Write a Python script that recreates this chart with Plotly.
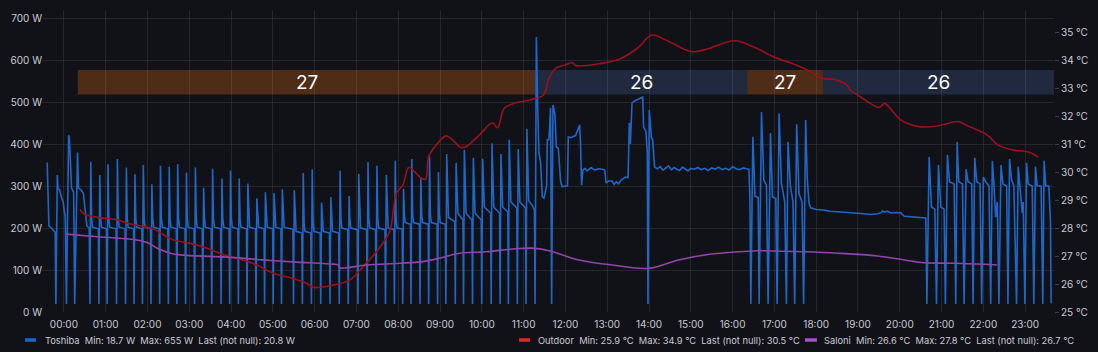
import pandas as pd
import plotly.graph_objects as go

DAY = pd.Timestamp("2023-07-15")

# ---- Toshiba power (W): (minutes from midnight, watts) ----
toshiba_start = [
    (-24, 356), (-23.3, 300), (-22.5, 245), (-21.5, 205), (-18, 200), (-15, 195), (-12.5, 190),
    (-11.5, 19), (-9.5, 326), (-8.5, 295), (-6, 290), (-3, 270), (-1, 262), (0.5, 240), (2, 225),
    (3.6, 19), (6.8, 421), (8.0, 410), (9.5, 340), (11, 295), (14, 285), (15.5, 19),
    (19.6, 380), (21, 295), (25, 290), (28, 282), (30, 250), (33, 205), (36.4, 200),
]
toshiba_night = [
    (37.4, 19), (38.6, 358), (39.8, 223), (41.1, 202), (49.5, 198),
    (50.3, 19), (51.5, 326), (52.7, 223), (54.0, 202), (61.3, 198),
    (62.1, 19), (63.3, 352), (64.5, 223), (65.8, 202), (74.8, 198),
    (75.6, 19), (76.8, 364), (78.0, 223), (79.3, 202), (87.7, 198),
    (88.5, 19), (89.7, 344), (90.9, 223), (92.2, 202), (100.0, 198),
    (100.8, 19), (102.0, 328), (103.2, 223), (104.5, 202), (112.0, 198),
    (112.8, 19), (114.0, 350), (115.2, 223), (116.5, 202), (124.3, 198),
    (125.1, 19), (126.3, 304), (127.5, 223), (128.8, 202), (136.7, 198),
    (137.5, 19), (138.7, 348), (139.9, 223), (141.2, 202), (149.2, 198),
    (150.0, 19), (151.2, 346), (152.4, 223), (153.7, 202), (161.4, 198),
    (162.2, 19), (163.4, 352), (164.6, 223), (165.9, 202), (173.9, 198),
    (174.7, 19), (175.9, 332), (177.1, 223), (178.4, 202), (186.8, 198),
    (187.6, 19), (188.8, 344), (190.0, 223), (191.3, 202), (198.6, 198),
    (199.4, 19), (200.6, 296), (201.8, 223), (203.1, 202), (211.5, 198),
    (212.3, 19), (213.5, 341), (214.7, 223), (216.0, 202), (224.9, 198),
    (225.7, 19), (226.9, 318), (228.1, 223), (229.4, 202), (237.2, 198),
    (238.0, 19), (239.2, 336), (240.4, 223), (241.7, 202), (249.7, 198),
    (250.5, 19), (251.7, 318), (252.9, 223), (254.2, 202), (262.1, 198),
    (262.9, 19), (264.1, 306), (265.3, 223), (266.6, 202), (275.0, 198),
    (275.8, 19), (277.0, 271), (278.2, 223), (279.5, 202), (287.3, 198),
    (288.1, 19), (289.3, 285), (290.5, 223), (291.8, 202), (299.7, 198),
    (300.5, 19), (301.7, 283), (302.9, 223), (304.2, 202), (311.6, 198),
    (312.4, 19), (313.6, 292), (314.8, 223), (316.1, 202), (328.8, 197),
    (329.6, 19), (330.8, 290), (332.0, 213), (333.3, 192), (341.6, 188),
    (342.4, 19), (343.6, 331), (344.8, 213), (346.1, 192), (354.5, 188),
    (355.3, 19), (356.5, 340), (357.7, 213), (359.0, 192), (367.9, 188),
    (368.7, 19), (369.9, 260), (371.1, 213), (372.4, 192), (381.2, 188),
    (382.0, 19), (383.2, 274), (384.4, 213), (385.7, 192), (394.5, 188),
    (395.3, 19), (396.5, 336), (397.7, 221), (399.0, 200), (407.4, 196),
    (408.2, 19), (409.4, 276), (410.6, 221), (411.9, 200), (421.3, 196),
    (422.1, 19), (423.3, 329), (424.5, 221), (425.8, 200), (434.6, 196),
    (435.4, 19), (436.6, 357), (437.8, 221), (439.1, 200), (447.4, 196),
    (448.2, 19), (449.4, 348), (450.6, 221), (451.9, 200), (460.9, 196),
    (461.7, 19), (462.9, 326), (464.1, 221), (465.4, 200), (473.7, 196),
    (474.5, 19), (475.7, 360), (476.9, 221), (478.2, 200), (485.6, 198),
    (486.4, 19), (487.6, 293), (488.8, 234), (490.1, 213), (497.5, 209),
    (498.3, 19), (499.5, 364), (500.7, 234), (502.0, 213), (510.4, 209),
    (511.2, 19), (512.4, 321), (513.6, 234), (514.9, 213), (522.9, 209),
    (523.7, 19), (524.9, 371), (526.1, 234), (527.4, 213), (535.7, 209),
    (536.5, 19), (537.7, 333), (538.9, 234), (540.2, 213), (547.6, 209),
    (548.4, 19), (549.6, 376), (550.8, 269), (552.1, 225), (561.1, 215),
    (561.9, 19), (563.1, 355), (564.3, 279), (565.6, 235), (572.9, 219),
    (573.7, 19), (574.9, 386), (576.1, 279), (577.4, 235), (585.8, 219),
    (586.6, 19), (587.8, 367), (589.0, 279), (590.3, 235), (599.1, 219),
    (599.9, 19), (601.1, 365), (602.3, 295), (603.6, 250), (612.6, 235),
    (613.4, 19), (614.6, 402), (615.8, 295), (617.1, 250), (625.4, 235),
    (626.2, 19), (627.4, 376), (628.6, 295), (629.9, 250), (637.3, 238),
    (638.1, 19), (639.3, 410), (640.5, 308), (641.8, 262), (650.2, 248),
    (651.0, 19), (652.2, 388), (653.4, 308), (654.7, 262), (662.7, 248),
    (663.5, 19), (664.7, 436), (665.9, 330), (667.2, 265), (672.0, 255), (675.5, 243),
]
toshiba_midday = [
    (676.4, 19), (678.3, 655), (680.7, 450), (682, 380), (684.4, 355), (686.8, 274), (689.2, 271),
    (691.6, 290), (693, 300), (694, 410), (696.3, 410), (698.7, 486), (700.2, 19), (702.1, 493),
    (705, 470), (706.9, 393), (709.8, 390), (713.1, 310), (715.5, 298), (720.3, 300), (723, 300),
    (724.1, 417), (727.4, 415), (734.6, 420), (738.4, 440), (740.3, 445), (741.7, 400), (743.2, 302),
    (745.1, 338), (748, 342), (751, 336), (753.6, 340), (757, 344), (762, 338), (767, 341),
    (772.7, 340), (776.5, 338), (778.4, 307), (782, 312), (787, 312), (790, 304), (793, 310),
    (796.5, 305), (800, 314), (804, 318), (806, 321), (809.9, 320), (811.8, 450), (813.2, 400),
    (815.6, 498), (820, 503), (825.1, 507), (830.9, 512), (832.3, 440), (835.6, 430), (837.5, 380),
    (838.5, 19), (840.4, 481), (843.3, 417), (845.2, 410), (848, 345), (852, 341), (856, 346),
    (860, 338), (864, 343), (868, 348), (872, 339), (876, 344), (880, 340), (884, 337), (888, 345),
    (892, 341), (896, 336), (900, 342), (905, 340), (910, 344), (915, 339), (920, 342), (925, 337),
    (930, 343), (935, 340), (940, 345), (945, 339), (950, 342), (955, 338), (960, 346), (965, 341),
    (970, 339), (975, 343), (980, 341), (983.4, 340), (984.8, 274), (986.2, 19),
]
toshiba_evening = [
    (989.1, 417), (990.3, 330), (992, 276), (996.7, 272), (998.1, 19),
    (1001.5, 476), (1004.8, 314), (1008.6, 302), (1011, 19),
    (1014.4, 426), (1017.2, 274), (1022, 270), (1023.9, 19),
    (1026.7, 473), (1030.1, 307), (1034.8, 262), (1037.2, 19),
    (1039.6, 405), (1042.9, 300), (1046.7, 262), (1049.1, 19),
    (1052, 447), (1055.3, 282), (1059.6, 262), (1062, 19),
    (1064.9, 457), (1067.3, 314), (1069.7, 259), (1072, 248),
    (1080, 244), (1090, 243), (1100, 240), (1111, 238), (1125, 237), (1140, 235), (1158.8, 232),
    (1168, 234), (1173, 236), (1175.4, 241), (1177.8, 238), (1182, 240), (1187.3, 236), (1195, 237),
    (1201.6, 236), (1206.4, 228), (1212, 227), (1220.7, 226), (1230, 225), (1237.4, 224), (1238.9, 19),
]
toshiba_night2 = [
    (1242.2, 369), (1245.5, 250), (1250.3, 245), (1252.7, 19),
    (1255.5, 350), (1258.9, 250), (1263.6, 245), (1265.5, 19),
    (1268.4, 374), (1271.3, 310), (1278, 305), (1280.4, 19),
    (1282.3, 405), (1284.7, 310), (1289.9, 305), (1292.3, 19),
    (1295.2, 340), (1298.1, 310), (1303.3, 305), (1305.2, 19),
    (1307.6, 367), (1310.5, 310), (1315.2, 305), (1317.6, 19),
    (1320, 321), (1323.3, 310), (1328.1, 300), (1330.5, 19),
    (1332.9, 360), (1335.3, 300), (1337.6, 226), (1340, 262), (1342.4, 19),
    (1345.3, 350), (1348.1, 305), (1353.4, 300), (1355.3, 19),
    (1357.6, 364), (1360.5, 314), (1363.8, 300), (1367.6, 19),
    (1370, 346), (1372.4, 305), (1375.8, 236), (1377.2, 262), (1379.6, 19),
    (1382, 355), (1384.4, 305), (1390.1, 300), (1392.5, 19),
    (1394.8, 346), (1397.2, 300), (1402.9, 300), (1405.3, 19),
    (1407.2, 360), (1409.6, 300), (1413.9, 300), (1416.3, 219), (1417.3, 20.8),
]

# ---- Outdoor temperature (°C) ----
outdoor = [
    (22.9, 28.67), (29.0, 28.50), (48.2, 28.38), (76.8, 28.29), (95.8, 28.14), (114.8, 28.05),
    (129.1, 27.96), (143.4, 27.75), (157.7, 27.57), (181.6, 27.45), (205.5, 27.28), (229.2, 27.04),
    (248.4, 26.92), (277.0, 26.68), (300.7, 26.38), (329.3, 26.20), (348.5, 26.03), (357.9, 25.88),
    (386.5, 25.96), (410.4, 26.14), (429.4, 26.62), (448.6, 27.15), (467.6, 27.87), (477.2, 29.24),
    (486.6, 29.54), (495.2, 30.17), (503.4, 30.01), (512.9, 29.78), (519.1, 29.74), (523.8, 30.55),
    (534.4, 30.96), (548.7, 31.29), (558.1, 31.14), (570.1, 30.87), (577.3, 30.90), (596.3, 31.32),
    (615.3, 31.76), (622.5, 31.58), (632.1, 32.28), (643.9, 32.43), (672.5, 32.60), (688.5, 32.75),
    (696.4, 33.35), (706.0, 33.70), (719.6, 33.82), (729.7, 33.90), (735.2, 33.80), (771.5, 33.88),
    (797.4, 34.03), (823.3, 34.42), (844.0, 34.89), (864.7, 34.71), (900.9, 34.30), (921.6, 34.38),
    (963.1, 34.69), (989.0, 34.48), (1020.2, 34.10), (1051.2, 33.82), (1071.9, 33.58), (1087.5, 33.35),
    (1108.3, 33.29), (1123.7, 33.11), (1129.0, 32.93), (1144.4, 32.67), (1170.3, 32.31), (1178.2, 32.45),
    (1185.9, 32.28), (1201.5, 31.86), (1227.4, 31.62), (1253.3, 31.64), (1284.4, 31.80), (1294.7, 31.68),
    (1325.7, 31.32), (1341.3, 30.96), (1362.1, 30.79), (1388.0, 30.69), (1398.4, 30.53),
]

# ---- Saloni (living room) temperature (°C) ----
saloni = [
    (2.9, 27.78), (48.2, 27.69), (95.8, 27.60), (119.7, 27.48), (134.0, 27.28), (153.0, 27.10),
    (167.3, 27.04), (238.8, 26.95), (286.4, 26.86), (334.2, 26.78), (386.5, 26.71), (393.7, 26.68),
    (396.1, 26.58), (434.3, 26.68), (481.9, 26.74), (515.2, 26.80), (539.1, 26.92), (567.7, 27.10),
    (605.9, 27.15), (643.9, 27.25), (672.5, 27.28), (696.4, 27.19), (739.3, 26.86), (786.9, 26.68),
    (839.4, 26.56), (882.3, 26.86), (929.9, 27.07), (996.7, 27.19), (1015.7, 27.18), (1063.5, 27.15),
    (1111.1, 27.10), (1168.3, 27.00), (1206.5, 26.86), (1235.1, 26.76), (1278.0, 26.74), (1339.9, 26.68),
]

# ---- Setpoint bands ----
band_start = ["00:20", "11:18", "16:21", "18:10"]
band_end = ["11:18", "16:21", "18:10", "23:42"]
band_value = [27, 26, 27, 26]

GAP = "&nbsp;&nbsp;"
legend_texts = [
    GAP.join(["Toshiba", "Min: 18.7 W", "Max: 655 W", "Last (not null): 20.8 W"]),
    GAP.join(["Outdoor", "Min: 25.9 °C", "Max: 34.9 °C", "Last (not null): 30.5 °C"]),
    GAP.join(["Saloni", "Min: 26.6 °C", "Max: 27.8 °C", "Last (not null): 26.7 °C"]),
]


def to_time(m):
    return DAY + pd.to_timedelta(m, unit="min")


def split(pairs):
    return [to_time(p[0]) for p in pairs], [p[1] for p in pairs]


tosh = toshiba_start + toshiba_night + toshiba_midday + toshiba_evening + toshiba_night2
tx, ty = split(tosh)
ox, oy = split(outdoor)
sx, sy = split(saloni)

BG = "#111217"
GRID = "rgba(204,204,220,0.11)"
TXT = "#c9cad4"
FONT = "Inter, Roboto, sans-serif"
BLUE = "#1f66c7"
RED = "#9a111d"
PURPLE = "#8e45ad"

fig = go.Figure()
fig.add_trace(go.Scatter(x=tx, y=ty, mode="lines", line=dict(color=BLUE, width=1.6),
                         name="Toshiba", yaxis="y"))
fig.add_trace(go.Scatter(x=ox, y=oy, mode="lines", line=dict(color=RED, width=1.6, shape="spline"),
                         name="Outdoor", yaxis="y2"))
fig.add_trace(go.Scatter(x=sx, y=sy, mode="lines", line=dict(color=PURPLE, width=1.6, shape="spline"),
                         name="Saloni", yaxis="y2"))

shapes = []
annotations = []
for s, e, v in zip(band_start, band_end, band_value):
    t0 = pd.Timestamp(f"2023-07-15 {s}")
    t1 = pd.Timestamp(f"2023-07-15 {e}")
    col = "rgba(120,62,20,0.60)" if v == 27 else "rgba(50,70,110,0.45)"
    shapes.append(dict(type="rect", xref="x", yref="y", x0=t0, x1=t1, y0=518, y1=576,
                       fillcolor=col, line=dict(width=0), layer="below"))
    annotations.append(dict(x=t0 + (t1 - t0) / 2, y=547, xref="x", yref="y", text=str(v),
                            showarrow=False, font=dict(family=FONT, size=19, color="#ffffff")))

# legend (bottom)
L, W_PLOT, B, H_PLOT = 42, 1015, 312, 302
def px(xp):
    return (xp - L) / W_PLOT
def py(yp):
    return (B - yp) / H_PLOT

leg_items = [(24, 35, 42, BLUE), (520, 531, 537, "#e0262f"), (807, 819, 824, "#a352cc")]
for (d0, d1, tx0, c), txt in zip(leg_items, legend_texts):
    shapes.append(dict(type="line", xref="paper", yref="paper", x0=px(d0), x1=px(d1),
                       y0=py(340), y1=py(340), line=dict(color=c, width=3.5)))
    annotations.append(dict(x=px(tx0), y=py(340), xref="paper", yref="paper", text=txt,
                            xanchor="left", yanchor="middle", showarrow=False,
                            font=dict(family=FONT, size=9.3, color=TXT)))

fig.update_layout(
    width=1098, height=352, autosize=False,
    margin=dict(l=42, r=41, t=10, b=40, pad=0),
    paper_bgcolor=BG, plot_bgcolor=BG,
    showlegend=False,
    font=dict(family=FONT, size=10, color=TXT),
    shapes=shapes, annotations=annotations,
    xaxis=dict(type="date", range=[to_time(-30), to_time(1421.4)], tickformat="%H:%M",
               dtick=3600000, tick0=DAY, showgrid=True, gridcolor=GRID, gridwidth=1,
               zeroline=False, showline=False, ticks="", ticklabelstandoff=5,
               tickfont=dict(size=10, color=TXT)),
    yaxis=dict(range=[0, 719.05], dtick=100, ticksuffix=" W", showgrid=True, gridcolor=GRID,
               zeroline=False, showline=False, ticks="", tickfont=dict(size=10, color=TXT)),
    yaxis2=dict(range=[25, 35.786], dtick=1, ticksuffix=" °C", overlaying="y", side="right",
                showgrid=False, zeroline=False, showline=False, ticks="outside", ticklen=4,
                tickcolor="rgba(204,204,220,0.25)", tickfont=dict(size=10, color=TXT)),
)

fig.write_html("out.html")
